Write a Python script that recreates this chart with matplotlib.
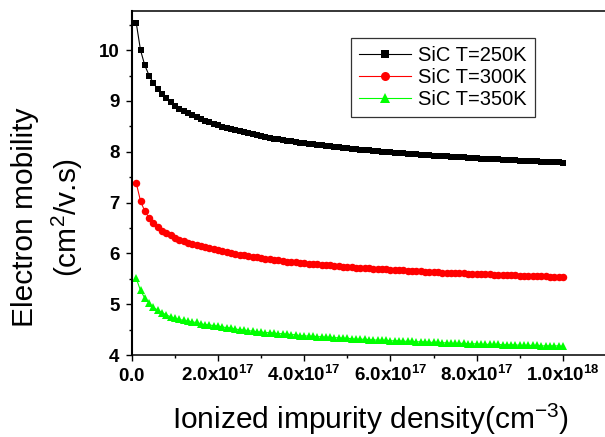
import numpy as np
import matplotlib
matplotlib.use("Agg")
import matplotlib.pyplot as plt
from matplotlib.ticker import MultipleLocator

plt.rcParams['font.family'] = ['Liberation Sans', 'DejaVu Sans']
plt.rcParams['mathtext.fontset'] = 'custom'
plt.rcParams['mathtext.rm'] = 'Liberation Sans'
plt.rcParams['mathtext.it'] = 'Liberation Sans:italic'
plt.rcParams['mathtext.bf'] = 'Liberation Sans:bold'

# ionized impurity density, 1e16 .. 1e18 cm^-3 (100 evenly spaced samples)
density = np.linspace(1e16, 1e18, 100)

mu_250 = [
    10.54, 10.00, 9.70, 9.50, 9.35, 9.23, 9.13, 9.05, 8.98, 8.91,
    8.85, 8.80, 8.76, 8.72, 8.68, 8.64, 8.61, 8.58, 8.55, 8.52,
    8.49, 8.47, 8.45, 8.42, 8.40, 8.38, 8.36, 8.34, 8.33, 8.31,
    8.29, 8.28, 8.26, 8.25, 8.24, 8.22, 8.21, 8.20, 8.18, 8.17,
    8.16, 8.15, 8.14, 8.13, 8.12, 8.11, 8.10, 8.09, 8.08, 8.07,
    8.06, 8.05, 8.04, 8.04, 8.03, 8.02, 8.01, 8.00, 8.00, 7.99,
    7.98, 7.98, 7.97, 7.96, 7.96, 7.95, 7.94, 7.94, 7.93, 7.92,
    7.92, 7.91, 7.91, 7.90, 7.90, 7.89, 7.89, 7.88, 7.88, 7.87,
    7.86, 7.86, 7.86, 7.85, 7.85, 7.84, 7.84, 7.83, 7.83, 7.82,
    7.82, 7.81, 7.81, 7.81, 7.80, 7.80, 7.79, 7.79, 7.79, 7.78,
]
mu_300 = [
    7.39, 7.03, 6.83, 6.70, 6.60, 6.52, 6.45, 6.40, 6.36, 6.31,
    6.27, 6.24, 6.21, 6.19, 6.16, 6.14, 6.12, 6.10, 6.08, 6.06,
    6.04, 6.02, 6.01, 5.99, 5.97, 5.96, 5.94, 5.93, 5.92, 5.91,
    5.89, 5.89, 5.87, 5.87, 5.86, 5.84, 5.84, 5.83, 5.82, 5.81,
    5.80, 5.79, 5.79, 5.78, 5.77, 5.77, 5.76, 5.75, 5.74, 5.74,
    5.73, 5.72, 5.72, 5.71, 5.71, 5.70, 5.70, 5.69, 5.69, 5.68,
    5.67, 5.67, 5.67, 5.66, 5.66, 5.65, 5.65, 5.64, 5.64, 5.63,
    5.63, 5.62, 5.62, 5.62, 5.61, 5.61, 5.61, 5.60, 5.60, 5.60,
    5.59, 5.59, 5.59, 5.58, 5.58, 5.58, 5.57, 5.57, 5.57, 5.56,
    5.56, 5.56, 5.55, 5.55, 5.55, 5.55, 5.54, 5.54, 5.54, 5.53,
]
mu_350 = [
    5.51, 5.27, 5.12, 5.02, 4.94, 4.88, 4.83, 4.79, 4.75, 4.72,
    4.70, 4.68, 4.67, 4.65, 4.64, 4.61, 4.60, 4.59, 4.58, 4.57,
    4.55, 4.54, 4.53, 4.51, 4.50, 4.49, 4.48, 4.47, 4.46, 4.45,
    4.44, 4.44, 4.43, 4.42, 4.42, 4.41, 4.40, 4.40, 4.38, 4.38,
    4.37, 4.37, 4.36, 4.36, 4.35, 4.35, 4.34, 4.34, 4.33, 4.33,
    4.32, 4.31, 4.31, 4.31, 4.30, 4.30, 4.29, 4.29, 4.29, 4.28,
    4.28, 4.28, 4.27, 4.27, 4.27, 4.26, 4.26, 4.26, 4.25, 4.25,
    4.25, 4.24, 4.24, 4.23, 4.23, 4.23, 4.23, 4.22, 4.22, 4.22,
    4.21, 4.21, 4.21, 4.21, 4.21, 4.20, 4.20, 4.20, 4.20, 4.19,
    4.19, 4.19, 4.19, 4.19, 4.18, 4.18, 4.18, 4.18, 4.18, 4.17,
]

labels = ['SiC T=250K', 'SiC T=300K', 'SiC T=350K']
x_ticks = [0, 2e17, 4e17, 6e17, 8e17, 1e18]
x_ticklabels = [r'$\mathbf{0.0}$', r'$\mathbf{2.0x10^{17}}$', r'$\mathbf{4.0x10^{17}}$',
                r'$\mathbf{6.0x10^{17}}$', r'$\mathbf{8.0x10^{17}}$', r'$\mathbf{1.0x10^{18}}$']
y_ticks = [4, 5, 6, 7, 8, 9, 10]

fig = plt.figure(figsize=(6.05, 4.37), dpi=100)
ax = fig.add_axes([0.218, 0.1876, 0.790, 0.7872])

ax.plot(density, mu_250, color='black', marker='s', markersize=4.6, mew=0, lw=0.8, label=labels[0])
ax.plot(density, mu_300, color='#ff0000', marker='o', markersize=5.4, mew=0, lw=0.8, label=labels[1])
ax.plot(density, mu_350, color='#00ff00', marker='^', markersize=6.2, mew=0, lw=0.8, label=labels[2])

ax.set_xlim(0, 1.109e18)
ax.set_ylim(4, 10.77)
ax.set_xticks(x_ticks)
ax.set_xticklabels(x_ticklabels)
ax.set_yticks(y_ticks)
ax.set_yticklabels([str(v) for v in y_ticks], fontweight='bold')
ax.xaxis.set_minor_locator(MultipleLocator(1e17))
ax.yaxis.set_minor_locator(MultipleLocator(0.5))

for s in ax.spines.values():
    s.set_linewidth(1.1)
ax.spines['left'].set_linewidth(1.5)
ax.tick_params(which='major', direction='out', length=4.5, width=1.0, labelsize=13.5)
ax.tick_params(which='minor', direction='out', length=2.5, width=1.0)
ax.tick_params(axis='y', pad=4.5)
ax.tick_params(axis='x', pad=14.5)
ax.tick_params(top=False, right=False, which='both')
for lab in ax.get_xticklabels():
    lab.set_va('baseline')

leg = ax.legend(loc='upper left', bbox_to_anchor=(0.580, 0.913),
                bbox_transform=fig.transFigure, fontsize=14.5, frameon=True,
                fancybox=False, edgecolor='black', handlelength=2.6,
                handletextpad=0.35, labelspacing=0.15, borderpad=0.4,
                markerscale=1.2, borderaxespad=0)
leg.get_frame().set_linewidth(0.9)

fig.text(0.041, 0.503, 'Electron mobility', rotation=90, ha='center', va='center', fontsize=21.5)
fig.text(0.111, 0.503, '(cm$^2$/v.s)', rotation=90, ha='center', va='center', fontsize=21.5)
fig.text(0.612, 0.018, 'Ionized impurity density(cm$^{-3}$)', ha='center', va='baseline', fontsize=21.5)

fig.savefig('out.png', dpi=100)
